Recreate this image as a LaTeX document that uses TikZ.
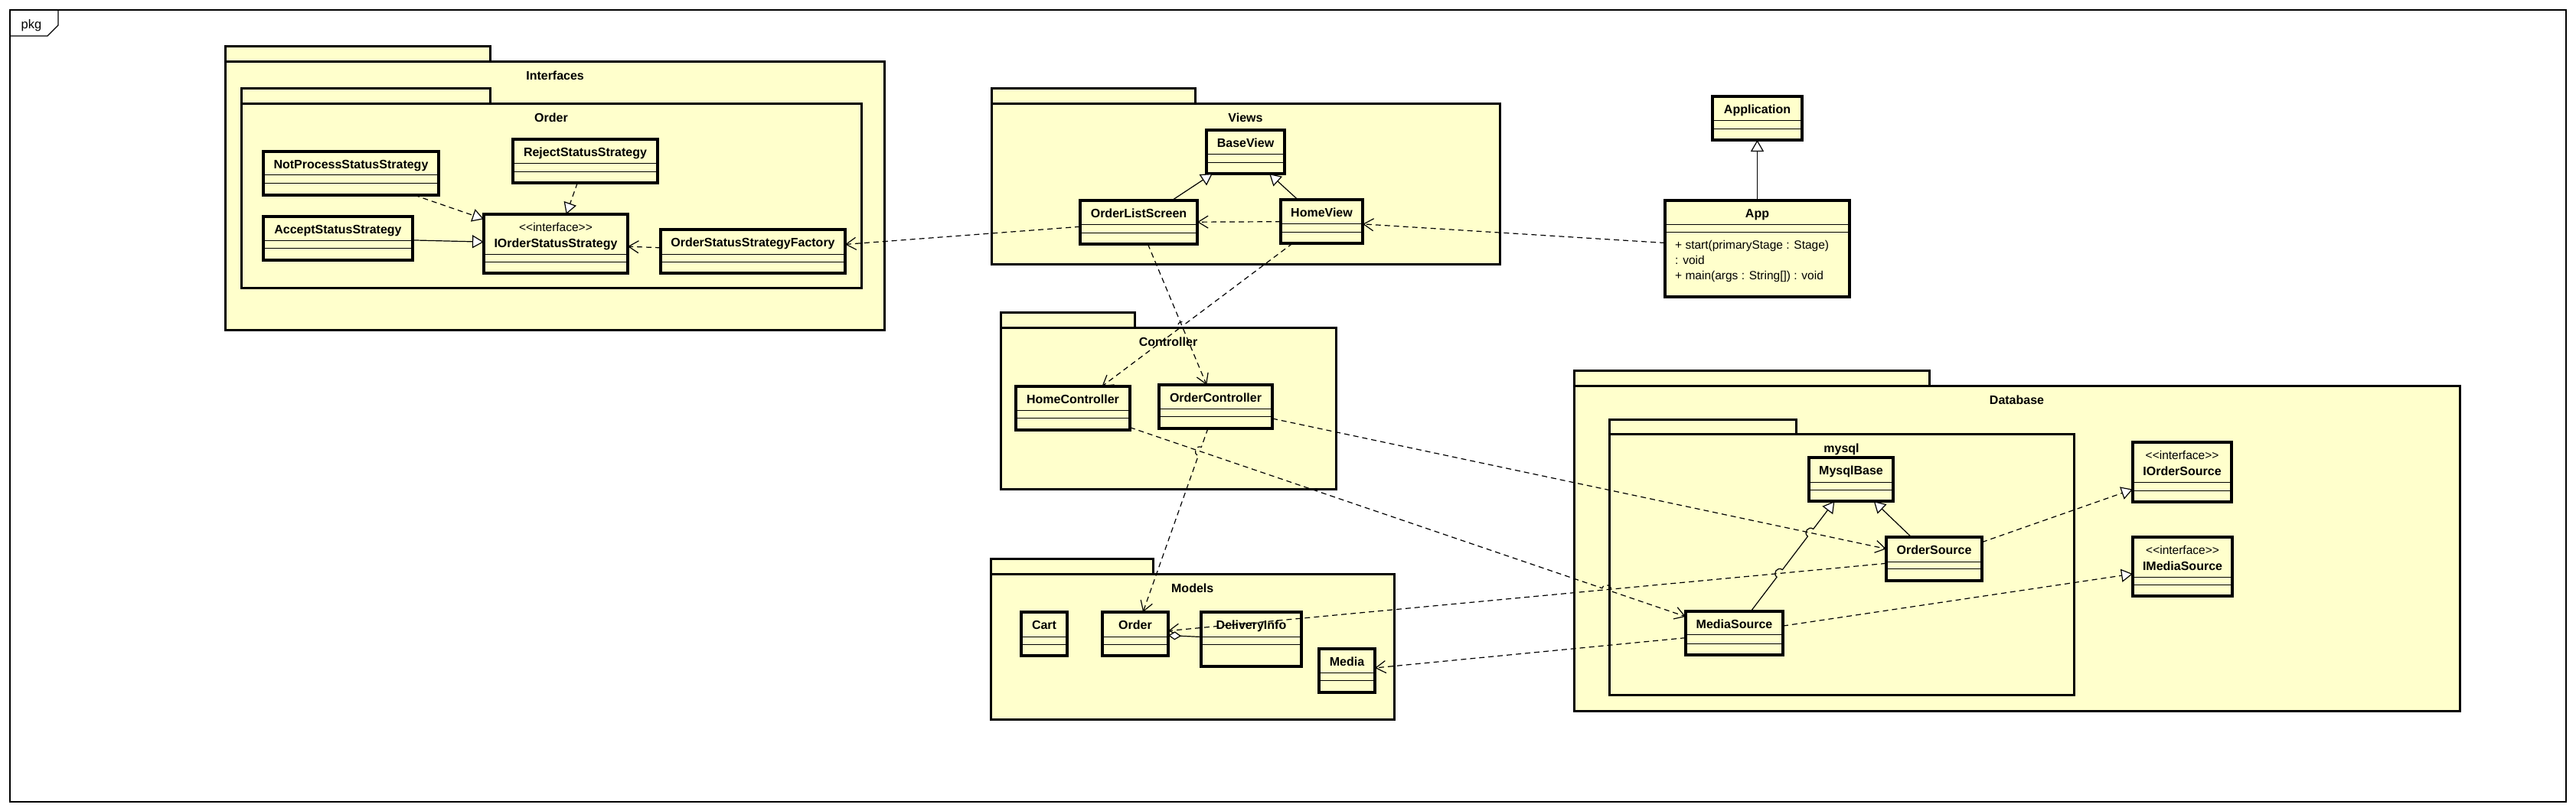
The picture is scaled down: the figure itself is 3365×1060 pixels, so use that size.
\documentclass[tikz,border=0pt]{standalone}
\usepackage{fontspec}
\setmainfont{Liberation Sans}
\usetikzlibrary{arrows.meta,calc}
\definecolor{umly}{RGB}{255,255,204}

\tikzset{
  outerframe/.style={line width=1.3pt, draw=black},
  pkgbox/.style={draw=black, line width=3pt, fill=umly},
  clsbox/.style={draw=black, line width=3.2pt, fill=umly, inner sep=0pt, outer sep=0pt},
  divider/.style={line width=1pt},
  conn/.style={line width=1.2pt},
  dep/.style={conn, dash pattern=on 7pt off 5pt, -{Straight Barb[length=13pt,width=16pt]}},
  realize/.style={conn, dash pattern=on 7pt off 5pt, -{Triangle[length=15pt,width=17pt,fill=white]}},
  gen/.style={conn, -{Triangle[length=15pt,width=17pt,fill=white]}},
  aggr/.style={conn, {Diamond[length=17pt,width=11pt,fill=white]}-},
  nm/.style={font=\fontsize{16}{19}\selectfont\bfseries, inner sep=0pt, anchor=base},
  st/.style={font=\fontsize{15.5}{18}\selectfont, inner sep=0pt, anchor=base},
  op/.style={font=\fontsize{15.5}{18}\selectfont, inner sep=0pt, anchor=base west},
}

% box with two compartment dividers: name, x1, y1, x2, y2, d1, d2
\newcommand\UMLbox[7]{%
  \node[clsbox, minimum width={#4-#2}, minimum height={#5-#3}] (#1) at ({(#2+#4)/2},{(#3+#5)/2}) {};
  \draw[divider] (#2,#6) -- (#4,#6);
  \draw[divider] (#2,#7) -- (#4,#7);
}
\newcommand\UMLcls[8]{%
  \UMLbox{#1}{#2}{#3}{#4}{#5}{#6}{#7}
  \node[nm] (#1-t) at ({(#2+#4)/2},{#3+22}) {#8};
}
% package: name, x1, tabtop, tabx2, bodytop, right, bottom, label
\newcommand\UMLpkg[8]{%
  \draw[pkgbox] (#2,#3) rectangle (#4,#5);
  \draw[pkgbox] (#2,#5) rectangle (#6,#7);
  \node[nm] (#1) at ({(#2+#6)/2},{#5+24}) {#8};
}
% connector with one line hop: style, from, to, fraction, angle1, angle2
\newcommand\hopline[6]{%
  \coordinate (hopc) at ($(#2)!#4!(#3)$);
  \coordinate (hops) at ($(hopc)!6pt!(#2)$);
  \coordinate (hope) at ($(hopc)!6pt!(#3)$);
  \draw[#1] (#2) -- (hops) .. controls ($(hops)!8pt!#5:(#3)$) and ($(hope)!8pt!#6:(#2)$) .. (hope) -- (#3);
}

\begin{document}
\begin{tikzpicture}[x=1pt,y=-1pt]
\useasboundingbox (0,0) rectangle (3365,1060);

% outer frame
\draw[outerframe] (13,13) rectangle (3352,1048);
\draw[outerframe] (13,47) -- (62,47) -- (76,33) -- (76,13);
\node[st, font=\fontsize{16.5}{19}\selectfont] (pkglabel) at (41,37) {pkg};

% packages
\UMLpkg{pInterfaces}{294.6}{60}{640}{80}{1155.6}{431.7}{Interfaces}
\UMLpkg{pOrder}{315}{115}{640}{135}{1125}{376.7}{Order}
\UMLpkg{pViews}{1295}{115}{1561}{135.5}{1959}{345}{Views}
\UMLpkg{pController}{1307}{408}{1482}{428.6}{1745}{639.5}{Controller}
\UMLpkg{pModels}{1294.4}{730}{1506}{750.5}{1821}{940.6}{Models}
\UMLpkg{pDatabase}{2056}{484.3}{2520}{504.3}{3213}{929}{Database}
\UMLpkg{pMysql}{2102}{548.3}{2346}{567.7}{2709}{908.3}{mysql}

% classes
\UMLcls{nps}{344}{198}{573}{255}{228}{239}{NotProcessStatusStrategy}
\UMLcls{rss}{670}{182}{859}{239}{213}{224}{RejectStatusStrategy}
\UMLcls{ass}{344}{283}{539}{340}{314}{324}{AcceptStatusStrategy}
\UMLbox{ioss}{632}{280}{820}{357}{332}{342}
\node[st] (ioss-s) at (726,302.5) {<\kern0pt<interface>\kern0pt>};
\node[nm] (ioss-t) at (726,323) {IOrderStatusStrategy};
\UMLcls{ossf}{863}{300}{1104}{357}{332}{342}{OrderStatusStrategyFactory}

\UMLcls{bv}{1576}{170}{1678}{227}{201}{212}{BaseView}
\UMLcls{ols}{1411}{262}{1564}{319}{293}{304}{OrderListScreen}
\UMLcls{hv}{1673}{261}{1780}{318}{292}{303}{HomeView}

\UMLcls{appl}{2237}{126}{2354}{183}{157}{168}{Application}
\UMLcls{app}{2175}{262}{2416}{388}{293}{303}{App}
\node[op] (app-o1) at (2188,325) {+ start(primaryStage : Stage)};
\node[op] (app-o2) at (2188,345) {: void};
\node[op] (app-o3) at (2188,365) {+ main(args : String[]) : void};

\UMLcls{hc}{1327}{505}{1476}{562}{536}{546.5}{HomeController}
\UMLcls{oc}{1514}{503}{1662}{560}{534.6}{544.6}{OrderController}

\UMLcls{cart}{1334}{800}{1394}{857}{832}{842}{Cart}
\UMLcls{ord}{1440}{800}{1526}{857}{832}{842}{Order}
\UMLcls{di}{1569}{800}{1700}{871}{832}{842}{DeliveryInfo}
\UMLcls{media}{1723}{848}{1796}{905}{879}{889}{Media}

\UMLcls{mb}{2363}{598}{2473}{655}{630}{640}{MysqlBase}
\UMLcls{os}{2464}{702}{2589}{759}{734}{743}{OrderSource}
\UMLcls{ms}{2202}{799}{2329}{856}{829}{841}{MediaSource}
\UMLbox{ios}{2786}{578}{2915}{656}{630}{641}
\node[st] (ios-s) at (2850.5,600.5) {<\kern0pt<interface>\kern0pt>};
\node[nm] (ios-t) at (2850.5,621) {IOrderSource};
\UMLbox{ims}{2786}{702}{2916}{779}{754}{764}
\node[st] (ims-s) at (2851,724.5) {<\kern0pt<interface>\kern0pt>};
\node[nm] (ims-t) at (2851,745) {IMediaSource};

% connectors
\draw[realize] (nps) -- (ioss);
\draw[realize] (rss) -- (ioss);
\draw[gen] (ass) -- (ioss);
\draw[dep] (ossf) -- (ioss);
\draw[dep] (ols) -- (ossf);
\draw[gen] (ols) -- (bv);
\draw[gen] (hv) -- (bv);
\draw[dep] (hv) -- (ols);
\draw[dep] (app) -- (hv);
\draw[gen] (app) -- (appl);
\draw[dep] (ols) -- (oc);
\hopline{dep}{hv}{hc}{0.561}{-90}{90}
\hopline{dep}{oc}{ord}{0.1967}{-90}{90}
\hopline{dep}{hc}{ms}{0.8068}{90}{-90}
\draw[dep] (oc) -- (os);
\draw[dep] (os) -- (ord);
\draw[dep] (ms) -- (media);
\draw[aggr] (ord) -- (di);
\draw[realize] (os) -- (ios);
\draw[realize] (ms) -- (ims);
\draw[gen] (os) -- (mb);
\coordinate (ha) at ($(ms)!0.3883!(mb)$);
\coordinate (hb) at ($(ms)!0.6529!(mb)$);
\coordinate (ha1) at ($(ha)!6pt!(ms)$);
\coordinate (ha2) at ($(ha)!6pt!(mb)$);
\coordinate (hb1) at ($(hb)!6pt!(ms)$);
\coordinate (hb2) at ($(hb)!6pt!(mb)$);
\draw[gen] (ms) -- (ha1) .. controls ($(ha1)!8pt!90:(mb)$) and ($(ha2)!8pt!-90:(ms)$) .. (ha2)
  -- (hb1) .. controls ($(hb1)!8pt!90:(mb)$) and ($(hb2)!8pt!-90:(ms)$) .. (hb2) -- (mb);
\end{tikzpicture}
\end{document}
